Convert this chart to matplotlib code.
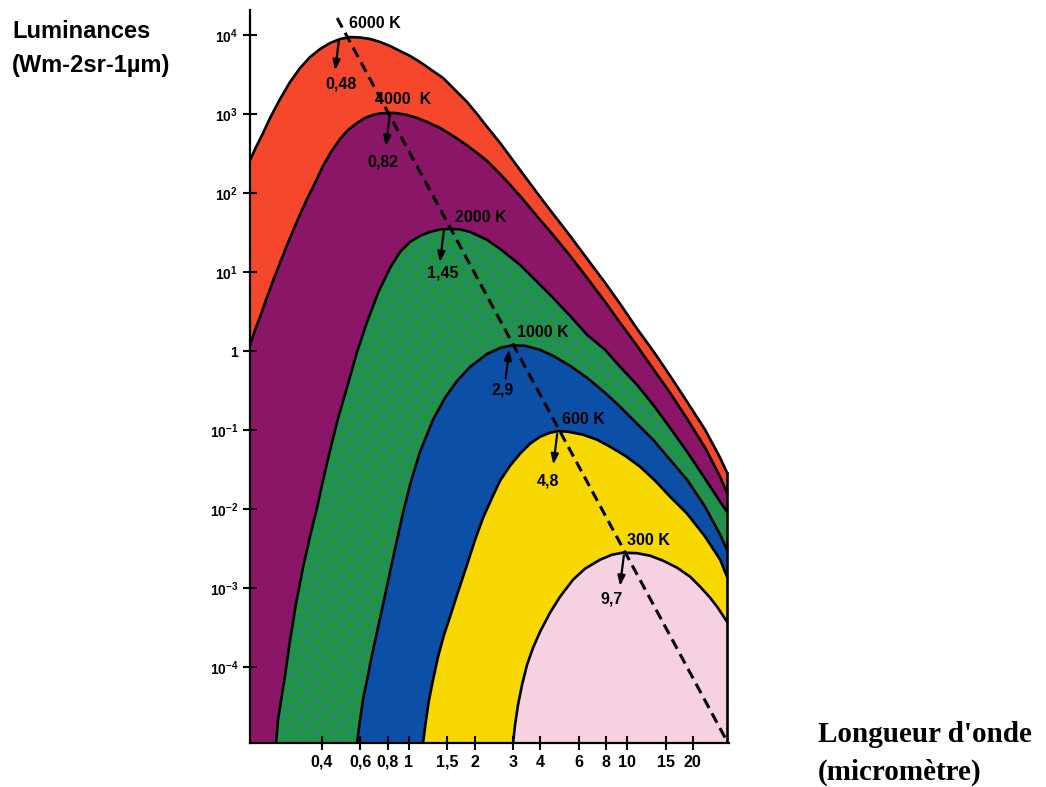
import matplotlib
matplotlib.use("Agg")
import matplotlib.pyplot as plt

plt.rcParams['font.family'] = ['Liberation Sans', 'DejaVu Sans']
plt.rcParams['mathtext.fontset'] = 'custom'
plt.rcParams['mathtext.rm'] = 'Liberation Sans:bold'
plt.rcParams['mathtext.bf'] = 'Liberation Sans:bold'
plt.rcParams['hatch.linewidth'] = 1.0

# courbes de Planck : longueur d'onde (µm) / luminance
lam_6000 = [0.1872, 0.1994, 0.2147, 0.2311, 0.2569, 0.2854, 0.3172, 0.3525, 0.3917, 0.4353,
            0.4838, 0.5377, 0.5975, 0.6642, 0.7380, 0.8203, 0.9113, 1.013, 1.125, 1.251,
            1.435, 1.628, 1.848, 2.053, 2.282, 2.618, 3.233, 3.993, 4.579, 5.482,
            6.557, 7.930, 9.288, 11.11, 13.16, 15.74, 18.84, 22.78, 26.69, 28.7]
lum_6000 = [261, 381, 573, 887, 1542, 2530, 3802, 5236, 6607, 7870,
            8851, 9376, 9247, 8851, 8110, 7211, 6237, 5395, 4529, 3690,
            2840, 2004, 1413, 997, 684, 429, 195, 88.9, 54.3, 28.6,
            14.7, 7.30, 3.95, 1.91, 1.006, 0.486, 0.228, 0.1009, 0.0447, 0.0289]

lam_4000 = [0.1872, 0.1973, 0.2080, 0.2215, 0.2385, 0.2597, 0.2854, 0.3106, 0.3415, 0.3716,
            0.4044, 0.4398, 0.4838, 0.5264, 0.5789, 0.6298, 0.6852, 0.7380, 0.7946, 0.8647,
            0.9813, 1.0905, 1.2118, 1.3900, 1.5944, 1.8097, 2.054, 2.282, 2.618, 3.233,
            3.993, 4.579, 5.482, 6.557, 7.930, 9.288, 11.11, 13.16, 15.74, 18.84,
            22.78, 26.69, 28.7]
lum_4000 = [1.198, 1.854, 2.706, 4.440, 7.718, 14.22, 26.99, 46.93, 83.99, 133.8,
            219.5, 329.9, 481.6, 626.0, 767.4, 887.7, 968.5, 1012, 1027, 1027,
            968.5, 887.7, 789.9, 663.3, 525.4, 416.5, 320.3, 253.9, 173.9, 91.66,
            45.58, 29.44, 15.98, 8.42, 4.19, 2.273, 1.163, 0.5957, 0.2962, 0.1390,
            0.0597, 0.02567, 0.01612]

lam_2000 = [0.2461, 0.2514, 0.2597, 0.2708, 0.2854, 0.3041, 0.3274, 0.3525, 0.3797, 0.4044,
            0.4353, 0.4736, 0.5208, 0.5789, 0.6434, 0.7225, 0.8203, 0.9113, 1.0127, 1.1255,
            1.2506, 1.3900, 1.5443, 1.7163, 1.9076, 2.282, 2.618, 3.233, 3.993, 4.579,
            5.482, 6.557, 7.930, 9.288, 11.11, 13.16, 15.74, 18.84, 22.78, 26.69, 28.7]
lum_2000 = [1.1e-5, 2.176e-5, 3.843e-5, 7.958e-5, 2.204e-4, 6.471e-4, 1.845e-3, 4.550e-3, 0.01058, 0.02323,
            0.05563, 0.1412, 0.3480, 0.9770, 2.340, 5.443, 11.27, 17.95, 24.02, 28.61,
            32.14, 34.56, 35.07, 34.56, 32.14, 25.46, 19.59, 12.29, 6.87, 4.706,
            2.786, 1.603, 1.036, 0.6314, 0.3739, 0.2089, 0.1069, 0.05318, 0.02423, 0.01241, 9.27e-3]

lam_1000 = [0.5789, 0.5975, 0.6166, 0.6434, 0.6782, 0.7149, 0.7615, 0.8203, 0.8829, 0.9406,
            1.0127, 1.1255, 1.2909, 1.4651, 1.6629, 1.9076, 2.282, 2.618, 2.972, 3.408,
            3.993, 4.579, 5.482, 6.557, 7.930, 9.288, 11.11, 13.16, 15.74, 18.84,
            22.78, 26.69, 28.7]
lum_1000 = [1.1e-5, 2.176e-5, 3.893e-5, 6.97e-5, 1.443e-4, 2.822e-4, 6.214e-4, 1.623e-3, 4.122e-3, 9.046e-3,
            0.02043, 0.05340, 0.1355, 0.2572, 0.4188, 0.6295, 0.9190, 1.094, 1.181, 1.164,
            1.036, 0.8697, 0.6501, 0.4583, 0.2962, 0.1971, 0.1201, 0.07540, 0.04211, 0.02353,
            0.01072, 4.746e-3, 3.067e-3]

lam_600 = [1.161, 1.1990, 1.2375, 1.2909, 1.3608, 1.4497, 1.5443, 1.6808, 1.8478, 2.0115,
           2.1886, 2.4064, 2.618, 2.9092, 3.233, 3.593, 3.993, 4.437, 4.827, 5.364,
           6.285, 7.287, 8.357, 9.791, 11.47, 13.44, 15.74, 18.84, 22.78, 26.69, 28.7]
lum_600 = [1.1e-5, 2.176e-5, 3.893e-5, 6.97e-5, 1.361e-4, 2.584e-4, 4.362e-4, 9.03e-4, 1.985e-3, 4.109e-3,
           7.794e-3, 0.01396, 0.02289, 0.03542, 0.05024, 0.06721, 0.08237, 0.09259, 0.09672, 0.09530,
           0.08732, 0.07551, 0.06160, 0.04739, 0.03441, 0.02289, 0.01437, 8.76e-3, 4.484e-3, 2.296e-3, 1.400e-3]

lam_300 = [3.002, 3.066, 3.165, 3.302, 3.481, 3.709, 3.993, 4.437, 4.931, 5.655,
           6.415, 7.518, 8.535, 9.587, 11.11, 12.75, 14.62, 16.95, 19.45, 21.61,
           24.01, 25.85, 28.7]
lum_300 = [1.1e-5, 1.880e-5, 3.366e-5, 6.026e-5, 1.079e-4, 1.769e-4, 2.818e-4, 4.902e-4, 7.809e-4, 1.281e-3,
           1.764e-3, 2.293e-3, 2.652e-3, 2.811e-3, 2.770e-3, 2.576e-3, 2.227e-3, 1.816e-3, 1.398e-3, 1.045e-3,
           7.585e-4, 5.834e-4, 3.771e-4]

temps = ["6000 K", "4000  K", "2000 K", "1000 K", "600 K", "300 K"]
peak_labels = ["0,48", "0,82", "1,45", "2,9", "4,8", "9,7"]
peak_um = [0.48, 0.82, 1.45, 2.9, 4.8, 9.7]

# loi de Wien (tirets)
wien_lam = [0.469, 28.1]
wien_lum = [1.63e4, 1.29e-5]

xticks = [0.4, 0.6, 0.8, 1, 1.5, 2, 3, 4, 6, 8, 10, 15, 20]
xticklabels = ["0,4", "0,6", "0,8", "1", "1,5", "2", "3", "4", "6", "8", "10", "15", "20"]
yticks = [1e4, 1e3, 1e2, 1e1, 1, 1e-1, 1e-2, 1e-3, 1e-4]
yticklabels = [r"$10^{4}$", r"$10^{3}$", r"$10^{2}$", r"$10^{1}$", "1",
               r"$10^{-1}$", r"$10^{-2}$", r"$10^{-3}$", r"$10^{-4}$"]

curves = [(lam_6000, lum_6000), (lam_4000, lum_4000), (lam_2000, lum_2000),
          (lam_1000, lum_1000), (lam_600, lum_600), (lam_300, lum_300)]
colors = ["#f4472b", "#8b1566", "#1f963e", "#0b4fa6", "#f7d800", "#f6d1e2"]

# decalages des etiquettes (points)
temp_off = [(7, 4), (-11, 4), (8, 3), (5, 3.5), (3.5, 3), (2, 3.5)]
val_off = [(1.5, -34), (-5, -35), (-1, -32), (-5, -32), (-7, -36), (-9, -33)]
arrow_up = [False, False, False, True, False, False]

ybot, ytop = 1.1e-5, 2.06e4
xleft, xright = 0.187, 29.3

fig = plt.figure(figsize=(10.46, 7.87), dpi=100)
ax = fig.add_axes([0.239, 0.0559, 0.4579, 0.9314])
ax.set_xscale('log')
ax.set_yscale('log')
ax.set_xlim(xleft, xright)
ax.set_ylim(ybot, ytop)

for (lam, lum), col in zip(curves, colors):
    ax.fill_between(lam, lum, ybot, facecolor=col, edgecolor='none', zorder=1)
    if col == "#1f963e":
        # trame en losanges de la zone 2000 K
        ax.fill_between(lam, lum, ybot, facecolor='none', edgecolor='#2c8088',
                        hatch='xx', linewidth=0, zorder=1)
    ax.plot(lam, lum, color='black', lw=1.9, zorder=3, solid_joinstyle='round')

# bord droit des aires
ax.plot([lam_6000[-1], lam_6000[-1]], [ybot, lum_6000[-1]], color='black', lw=1.9, zorder=3)

ax.plot(wien_lam, wien_lum, color='black', lw=2.2, ls=(0, (3.5, 2)), zorder=4)

for i, (lam, lum) in enumerate(curves):
    top = max(lum)
    lb = dict(fontsize=11.5, fontweight='bold', textcoords='offset points',
              annotation_clip=False, zorder=5)
    ax.annotate(temps[i], xy=(peak_um[i], top), xytext=temp_off[i], ha='left', va='bottom', **lb)
    ax.annotate(peak_labels[i], xy=(peak_um[i], top), xytext=val_off[i],
                ha='center', va='center', **lb)
    if arrow_up[i]:
        ax.annotate('', xy=(peak_um[i], top), xytext=(-3, -24), textcoords='offset points',
                    arrowprops=dict(arrowstyle='-|>,head_length=0.6,head_width=0.22',
                                    color='black', lw=1.6, shrinkA=0, shrinkB=3), zorder=5)
    else:
        ax.annotate('', xy=(peak_um[i], top), xytext=(-3, -24), textcoords='offset points',
                    arrowprops=dict(arrowstyle='<|-,head_length=0.6,head_width=0.22',
                                    color='black', lw=1.6, shrinkA=0, shrinkB=2), zorder=5)

ax.set_xticks(xticks)
ax.set_xticklabels(xticklabels, fontsize=11.5, fontweight='bold')
ax.xaxis.set_minor_locator(plt.NullLocator())
ax.set_yticks(yticks)
ax.set_yticklabels(yticklabels, fontsize=10, fontweight='bold')
ax.yaxis.set_minor_locator(plt.NullLocator())
ax.tick_params(direction='inout', length=10, width=1.5, pad=3.5)

for s in ['top', 'right']:
    ax.spines[s].set_visible(False)
for s in ['left', 'bottom']:
    ax.spines[s].set_linewidth(1.6)

fig.text(0.0115, 0.9606, "Luminances", fontsize=17, fontweight='bold', ha='left', va='center')
fig.text(0.0115, 0.9174, "(Wm-2sr-1µm)", fontsize=17, fontweight='bold', ha='left', va='center')
fig.text(0.782, 0.0673, "Longueur d'onde", fontsize=21, fontweight='bold',
         family='Liberation Serif', ha='left', va='center')
fig.text(0.782, 0.019, "(micromètre)", fontsize=21, fontweight='bold',
         family='Liberation Serif', ha='left', va='center')

fig.savefig("out.png", dpi=100)
